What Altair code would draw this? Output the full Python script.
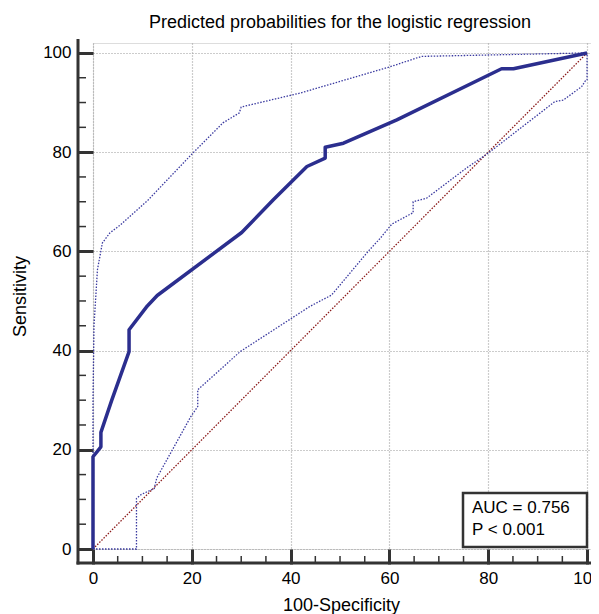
import altair as alt
import pandas as pd

# ROC curve (100-Specificity, Sensitivity)
roc_x = [0, 0, 1.6, 1.6, 3.8, 7.3, 7.3, 11.0, 13.0, 30.1, 36.5, 43.3, 47.0, 47.0, 50.7, 61.5, 82.7, 85.1, 100]
roc_y = [0, 18.6, 20.6, 23.5, 30.0, 39.8, 44.2, 49.0, 51.1, 63.8, 70.4, 77.1, 78.8, 81.0, 81.8, 86.5, 96.8, 96.8, 100]

# Upper 95% confidence bound
up_x = [0, 0, 0.2, 0.9, 1.9, 3.4, 5.5, 11.2, 20.0, 26.3, 29.6, 30.0, 41.9, 60.1, 66.5, 100]
up_y = [0, 30.0, 45.0, 56.3, 61.7, 63.7, 65.3, 70.4, 79.6, 85.9, 87.9, 89.1, 91.9, 97.2, 99.3, 100]

# Lower 95% confidence bound
lo_x = [0, 8.8, 8.8, 9.8, 12.4, 12.9, 19.8, 21.2, 21.2, 29.8, 43.9, 48.3, 55.7, 58.1, 60.5, 64.8, 64.8, 67.5, 75.6, 80.0, 93.5, 95.2, 98.9, 99.8, 100, 100]
lo_y = [0, 0, 10.2, 11.0, 12.2, 14.3, 26.7, 28.7, 32.1, 39.8, 48.9, 51.2, 60.0, 62.6, 65.5, 67.8, 70.0, 70.7, 76.8, 79.8, 90.2, 90.5, 93.2, 94.6, 94.6, 100]

# Reference diagonal
diag_x = [0, 100]
diag_y = [0, 100]

major_ticks = [0, 20, 40, 60, 80, 100]
minor_ticks = [5, 10, 15, 25, 30, 35, 45, 50, 55, 65, 70, 75, 85, 90, 95]

title_text = ["Predicted probabilities for the logistic regression"]
x_title = "100-Specificity"
y_title = "Sensitivity"
annotation_lines = ["AUC = 0.756", "P < 0.001"]

W, H = 498, 506
FONT = "Liberation Sans"
AXIS_COL = "#333333"


def frame(xs, ys):
    return pd.DataFrame({"x": xs, "y": ys, "i": list(range(len(xs)))})


xscale = alt.Scale(domain=[0, 100.8], nice=False, zero=False)
yscale = alt.Scale(domain=[0, 102], nice=False, zero=False)

xaxis = alt.Axis(
    values=major_ticks, domain=False, tickSize=15, tickWidth=3, tickColor=AXIS_COL,
    labelFontSize=17, labelFont=FONT, labelColor="black", labelPadding=6, labelFlush=False,
    labelBound=False, labelOverlap=False,
    grid=True, gridDash=[1, 2], gridColor="#999999", gridWidth=1.2,
    title=x_title, titleFont=FONT, titleFontSize=18, titleFontWeight="normal",
    titleColor="black", titleX=248, titleY=61, titleBaseline="alphabetic", titleAlign="center",
)
yaxis = alt.Axis(
    values=major_ticks, domain=False, tickSize=15, tickWidth=3, tickColor=AXIS_COL,
    labelFontSize=17, labelFont=FONT, labelColor="black", labelPadding=7,
    grid=True, gridDash=[1, 2], gridColor="#999999", gridWidth=1.2,
    title=y_title, titleFont=FONT, titleFontSize=18, titleFontWeight="normal",
    titleColor="black", titleX=-73, titleY=253, titleAngle=270, titleBaseline="middle",
    titleAlign="center",
)

diag = alt.Chart(frame(diag_x, diag_y)).mark_line(
    color="#8B1A1A", strokeWidth=1.3, strokeDash=[1.5, 1.5]
).encode(
    x=alt.X("x:Q", scale=xscale, axis=xaxis),
    y=alt.Y("y:Q", scale=yscale, axis=yaxis),
    order="i:Q",
)

upper = alt.Chart(frame(up_x, up_y)).mark_line(
    color="#3B3BA0", strokeWidth=1.3, strokeDash=[1.5, 1.5]
).encode(x="x:Q", y="y:Q", order="i:Q")

lower = alt.Chart(frame(lo_x, lo_y)).mark_line(
    color="#3B3BA0", strokeWidth=1.3, strokeDash=[1.5, 1.5]
).encode(x="x:Q", y="y:Q", order="i:Q")

roc = alt.Chart(frame(roc_x, roc_y)).mark_line(
    color="#2B2E8E", strokeWidth=3.5, strokeJoin="round"
).encode(x="x:Q", y="y:Q", order="i:Q")

minor_df = pd.DataFrame({"v": minor_ticks})
minor_y = alt.Chart(minor_df).mark_rule(color=AXIS_COL, strokeWidth=1.5).encode(
    y="v:Q", x=alt.value(-15), x2=alt.value(-7)
)
minor_x = alt.Chart(minor_df).mark_rule(color=AXIS_COL, strokeWidth=1.5).encode(
    x="v:Q", y=alt.value(H + 14), y2=alt.value(H + 7)
)

one = pd.DataFrame({"k": [0]})
yline = alt.Chart(one).mark_rule(color=AXIS_COL, strokeWidth=3).encode(
    x=alt.value(-15), y=alt.value(-4), y2=alt.value(H + 15.5)
)
xline = alt.Chart(one).mark_rule(color=AXIS_COL, strokeWidth=3).encode(
    y=alt.value(H + 14), x=alt.value(-16.5), x2=alt.value(W + 4)
)

box = alt.Chart(one).mark_rect(fill="white", stroke=AXIS_COL, strokeWidth=2.5).encode(
    x=alt.value(370), x2=alt.value(494), y=alt.value(450), y2=alt.value(504)
)
ann_df = pd.DataFrame({"t": annotation_lines, "row": [0, 1]})
ann1 = alt.Chart(ann_df[ann_df.row == 0]).mark_text(
    align="left", baseline="alphabetic", fontSize=17, font=FONT, color="black"
).encode(text="t:N", x=alt.value(379), y=alt.value(470))
ann2 = alt.Chart(ann_df[ann_df.row == 1]).mark_text(
    align="left", baseline="alphabetic", fontSize=17, font=FONT, color="black"
).encode(text="t:N", x=alt.value(379), y=alt.value(492))

title_df = pd.DataFrame({"t": title_text})
title = alt.Chart(title_df).mark_text(
    align="center", baseline="alphabetic", fontSize=18, font=FONT, color="black"
).encode(text="t:N", x=alt.value(247), y=alt.value(-15))

chart = alt.layer(
    diag, upper, lower, roc, box, ann1, ann2, minor_y, minor_x, yline, xline, title
).properties(
    width=W, height=H,
    autosize=alt.AutoSizeParams(type="none"),
    padding={"left": 85, "top": 35, "right": 0, "bottom": 65},
).configure_view(stroke=None).configure(background="white")

chart.save("out.html", embed_options={"renderer": "svg", "actions": False})
